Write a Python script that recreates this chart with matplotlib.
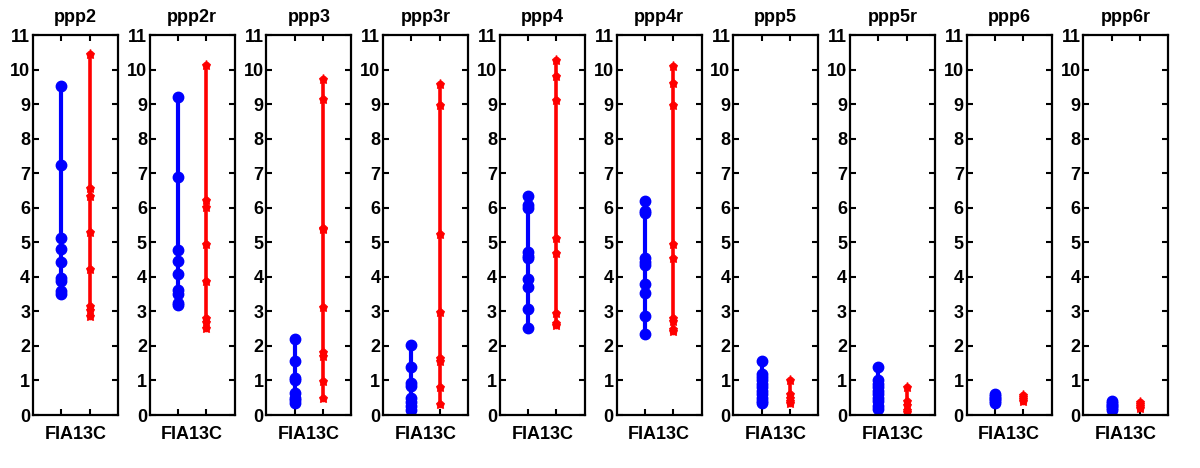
import matplotlib
matplotlib.use("Agg")
import matplotlib.pyplot as plt

plt.rcParams['font.family'] = ['Liberation Sans', 'DejaVu Sans']
plt.rcParams['font.weight'] = 'bold'

# panel names
names = ["ppp2", "ppp2r", "ppp3", "ppp3r", "ppp4", "ppp4r", "ppp5", "ppp5r", "ppp6", "ppp6r"]
group_label = "FIA13C"

# blue series (first column) per panel
blue_vals = [
    [9.52, 7.24, 5.12, 4.8, 4.42, 3.97, 3.87, 3.58, 3.5],
    [9.2, 6.9, 4.78, 4.45, 4.07, 3.62, 3.5, 3.25, 3.17],
    [2.2, 1.57, 1.07, 1.0, 0.65, 0.5, 0.42, 0.35],
    [2.02, 1.4, 0.92, 0.85, 0.5, 0.38, 0.25, 0.15],
    [6.35, 6.08, 6.0, 4.72, 4.6, 4.55, 3.95, 3.7, 3.07, 2.52],
    [6.2, 5.9, 5.85, 4.55, 4.42, 4.35, 3.78, 3.52, 2.88, 2.35],
    [1.55, 1.2, 1.1, 1.0, 0.9, 0.8, 0.7, 0.6, 0.5, 0.4, 0.35],
    [1.38, 1.0, 0.9, 0.8, 0.7, 0.6, 0.5, 0.4, 0.25, 0.18],
    [0.6, 0.55, 0.5, 0.45, 0.4, 0.35],
    [0.4, 0.35, 0.3, 0.25, 0.2, 0.15],
]

# red series (second column) per panel
red_vals = [
    [10.45, 6.58, 6.35, 5.3, 4.23, 3.15, 3.05, 2.87],
    [10.12, 6.23, 6.02, 4.95, 3.88, 2.8, 2.68, 2.53],
    [9.72, 9.15, 5.42, 5.38, 3.12, 1.82, 1.72, 0.97, 0.5],
    [9.57, 8.98, 5.25, 2.97, 1.65, 1.55, 0.8, 0.33],
    [10.28, 9.8, 9.12, 5.12, 4.7, 2.95, 2.65, 2.6],
    [10.1, 9.62, 8.97, 4.95, 4.55, 2.8, 2.72, 2.48, 2.42],
    [1.0, 0.6, 0.5, 0.4, 0.35],
    [0.82, 0.4, 0.3, 0.15, 0.1],
    [0.58, 0.52, 0.45, 0.4],
    [0.38, 0.32, 0.25, 0.2],
]

fig = plt.figure(figsize=(12, 4.68), dpi=100)

for i, name in enumerate(names):
    left = (33 + i * 116.7) / 1200
    ax = fig.add_axes([left, 53 / 468, 85 / 1200, 380 / 468])

    ax.plot([1] * len(blue_vals[i]), blue_vals[i], color="blue", lw=3,
            marker="o", ms=7.5, mfc="blue", mec="blue", solid_capstyle="round")
    ax.plot([2] * len(red_vals[i]), red_vals[i], color="red", lw=2.6,
            marker="o", ms=4.5, mfc="red", mec="red", solid_capstyle="round")
    ax.plot([2] * len(red_vals[i]), red_vals[i], ls="none", color="red",
            marker="*", ms=6.5)

    ax.set_xlim(0, 3)
    ax.set_ylim(0, 11)
    ax.set_yticks(range(0, 12))
    ax.set_xticks([1, 2])
    ax.set_xticklabels(["", ""])
    ax.set_xticks([1.5], minor=True)
    ax.set_xticklabels([group_label], minor=True)
    ax.tick_params(axis="x", which="minor", length=0, labelsize=13, pad=8)
    ax.tick_params(which="major", direction="in", length=4, width=1.5,
                   top=True, right=True, labelsize=13, pad=2)
    for sp in ax.spines.values():
        sp.set_linewidth(1.6)
    ax.set_title(name, fontsize=13, fontweight="bold", pad=9)

fig.savefig("out.png", dpi=100)
